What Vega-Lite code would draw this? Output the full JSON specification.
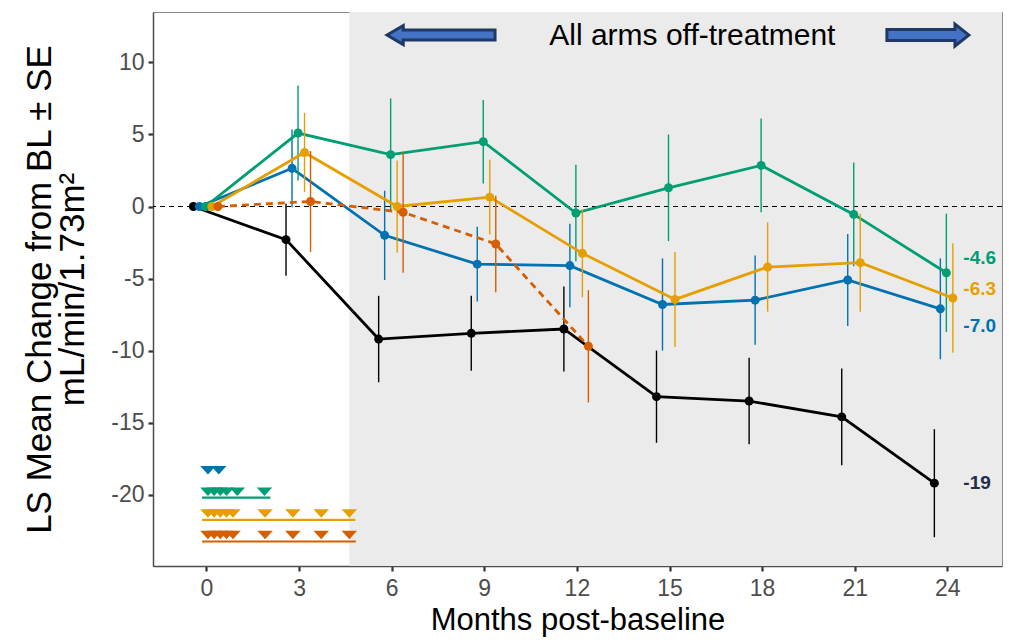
{
  "$schema": "https://vega.github.io/schema/vega-lite/v6.json",
  "width": 849,
  "height": 554,
  "autosize": "none",
  "padding": {"left": 153, "top": 12, "right": 7, "bottom": 78},
  "background": "white",
  "config": {
    "font": "Liberation Sans",
    "view": {"stroke": "#8a8a8a", "strokeWidth": 1},
    "axis": {
      "grid": false,
      "domainColor": "#4d4d4d",
      "domainWidth": 1.5,
      "tickColor": "#333333",
      "tickWidth": 2.2,
      "tickSize": 5,
      "labelFont": "Liberation Sans",
      "labelFontSize": 23,
      "labelColor": "#4d4d4d",
      "titleFont": "Liberation Sans",
      "titleFontWeight": "normal",
      "titleColor": "#000000"
    }
  },
  "datasets": {
    "means": [
      {"arm": "Control", "month": 0, "mean": 0, "lo": 0, "hi": 0},
      {"arm": "Control", "month": 3, "mean": -2.3, "lo": -4.8, "hi": 0.2},
      {"arm": "Control", "month": 6, "mean": -9.2, "lo": -12.2, "hi": -6.2},
      {"arm": "Control", "month": 9, "mean": -8.8, "lo": -11.4, "hi": -6.2},
      {"arm": "Control", "month": 12, "mean": -8.5, "lo": -11.45, "hi": -5.55},
      {"arm": "Control", "month": 15, "mean": -13.2, "lo": -16.4, "hi": -10.0},
      {"arm": "Control", "month": 18, "mean": -13.5, "lo": -16.5, "hi": -10.5},
      {"arm": "Control", "month": 21, "mean": -14.6, "lo": -17.95, "hi": -11.25},
      {"arm": "Control", "month": 24, "mean": -19.2, "lo": -22.95, "hi": -15.45},
      {"arm": "Arm 1", "month": 0, "mean": 0, "lo": 0, "hi": 0},
      {"arm": "Arm 1", "month": 3, "mean": 2.65, "lo": -0.05, "hi": 5.35},
      {"arm": "Arm 1", "month": 6, "mean": -2.0, "lo": -5.1, "hi": 1.1},
      {"arm": "Arm 1", "month": 9, "mean": -4.0, "lo": -6.6, "hi": -1.4},
      {"arm": "Arm 1", "month": 12, "mean": -4.1, "lo": -7.0, "hi": -1.2},
      {"arm": "Arm 1", "month": 15, "mean": -6.8, "lo": -10.0, "hi": -3.6},
      {"arm": "Arm 1", "month": 18, "mean": -6.5, "lo": -9.6, "hi": -3.4},
      {"arm": "Arm 1", "month": 21, "mean": -5.1, "lo": -8.3, "hi": -1.9},
      {"arm": "Arm 1", "month": 24, "mean": -7.1, "lo": -10.6, "hi": -3.6},
      {"arm": "Arm 2", "month": 0, "mean": 0, "lo": 0, "hi": 0},
      {"arm": "Arm 2", "month": 3, "mean": 5.1, "lo": 1.8, "hi": 8.4},
      {"arm": "Arm 2", "month": 6, "mean": 3.6, "lo": -0.3, "hi": 7.5},
      {"arm": "Arm 2", "month": 9, "mean": 4.5, "lo": 1.6, "hi": 7.4},
      {"arm": "Arm 2", "month": 12, "mean": -0.45, "lo": -3.8, "hi": 2.9},
      {"arm": "Arm 2", "month": 15, "mean": 1.3, "lo": -2.4, "hi": 5.0},
      {"arm": "Arm 2", "month": 18, "mean": 2.85, "lo": -0.4, "hi": 6.1},
      {"arm": "Arm 2", "month": 21, "mean": -0.55, "lo": -4.15, "hi": 3.05},
      {"arm": "Arm 2", "month": 24, "mean": -4.6, "lo": -8.7, "hi": -0.5},
      {"arm": "Arm 3", "month": 0, "mean": 0, "lo": 0, "hi": 0},
      {"arm": "Arm 3", "month": 3, "mean": 3.75, "lo": 1.0, "hi": 6.5},
      {"arm": "Arm 3", "month": 6, "mean": 0.0, "lo": -3.2, "hi": 3.2},
      {"arm": "Arm 3", "month": 9, "mean": 0.65, "lo": -1.95, "hi": 3.25},
      {"arm": "Arm 3", "month": 12, "mean": -3.25, "lo": -6.3, "hi": -0.2},
      {"arm": "Arm 3", "month": 15, "mean": -6.45, "lo": -9.75, "hi": -3.15},
      {"arm": "Arm 3", "month": 18, "mean": -4.2, "lo": -7.3, "hi": -1.1},
      {"arm": "Arm 3", "month": 21, "mean": -3.9, "lo": -7.3, "hi": -0.5},
      {"arm": "Arm 3", "month": 24, "mean": -6.35, "lo": -10.15, "hi": -2.55},
      {"arm": "Arm 4", "month": 0, "mean": 0, "lo": 0, "hi": 0},
      {"arm": "Arm 4", "month": 3, "mean": 0.35, "lo": -3.15, "hi": 3.85},
      {"arm": "Arm 4", "month": 6, "mean": -0.4, "lo": -4.6, "hi": 3.8},
      {"arm": "Arm 4", "month": 9, "mean": -2.6, "lo": -5.95, "hi": 0.75},
      {"arm": "Arm 4", "month": 12, "mean": -9.7, "lo": -13.6, "hi": -5.8}
    ],
    "labels": [
      {"arm": "Arm 2", "month": 24, "ly": -3.6, "label": "-4.6"},
      {"arm": "Arm 3", "month": 24, "ly": -5.75, "label": "-6.3"},
      {"arm": "Arm 1", "month": 24, "ly": -8.3, "label": "-7.0"},
      {"arm": "Control", "month": 24, "ly": -19.2, "label": "-19"}
    ],
    "doses": [
      {"arm": "Arm 1", "month": 0.05, "level": -18.3},
      {"arm": "Arm 1", "month": 0.4, "level": -18.3},
      {"arm": "Arm 2", "month": 0.05, "level": -19.8},
      {"arm": "Arm 2", "month": 0.25, "level": -19.8},
      {"arm": "Arm 2", "month": 0.45, "level": -19.8},
      {"arm": "Arm 2", "month": 0.65, "level": -19.8},
      {"arm": "Arm 2", "month": 1.0, "level": -19.8},
      {"arm": "Arm 2", "month": 1.88, "level": -19.8},
      {"arm": "Arm 3", "month": 0.05, "level": -21.3},
      {"arm": "Arm 3", "month": 0.25, "level": -21.3},
      {"arm": "Arm 3", "month": 0.45, "level": -21.3},
      {"arm": "Arm 3", "month": 0.65, "level": -21.3},
      {"arm": "Arm 3", "month": 0.86, "level": -21.3},
      {"arm": "Arm 3", "month": 1.9, "level": -21.3},
      {"arm": "Arm 3", "month": 2.8, "level": -21.3},
      {"arm": "Arm 3", "month": 3.72, "level": -21.3},
      {"arm": "Arm 3", "month": 4.63, "level": -21.3},
      {"arm": "Arm 4", "month": 0.05, "level": -22.8},
      {"arm": "Arm 4", "month": 0.25, "level": -22.8},
      {"arm": "Arm 4", "month": 0.45, "level": -22.8},
      {"arm": "Arm 4", "month": 0.65, "level": -22.8},
      {"arm": "Arm 4", "month": 0.86, "level": -22.8},
      {"arm": "Arm 4", "month": 1.9, "level": -22.8},
      {"arm": "Arm 4", "month": 2.8, "level": -22.8},
      {"arm": "Arm 4", "month": 3.72, "level": -22.8},
      {"arm": "Arm 4", "month": 4.63, "level": -22.8}
    ],
    "doselines": [
      {"arm": "Arm 2", "start": -0.14, "end": 2.07, "level": -20.2},
      {"arm": "Arm 3", "start": -0.14, "end": 4.82, "level": -21.75},
      {"arm": "Arm 4", "start": -0.14, "end": 4.84, "level": -23.25}
    ]
  },
  "layer": [
    {
      "data": {"values": [{"start": 4.63, "end": 25.77}]},
      "mark": {"type": "rect", "color": "#EBEBEB", "clip": true},
      "encoding": {
        "x": {"field": "start", "type": "quantitative", "scale": {"domain": [-1.73, 25.77], "nice": false, "zero": false},
          "axis": {"values": [0, 3, 6, 9, 12, 15, 18, 21, 24], "labelPadding": 6, "title": "Months post-baseline", "titleFontSize": 31, "titlePadding": 5}},
        "x2": {"field": "end"}
      }
    },
    {
      "data": {"values": [{"zero": 0}]},
      "mark": {"type": "rule", "color": "#000000", "strokeWidth": 1, "strokeDash": [5, 4]},
      "encoding": {
        "y": {"field": "zero", "type": "quantitative", "scale": {"domain": [-24.95, 13.5], "nice": false, "zero": false},
          "axis": {"values": [-20, -15, -10, -5, 0, 5, 10], "labelExpr": "toString(datum.value)", "labelPadding": 4, "title": ["LS Mean Change from BL ± SE", "mL/min/1.73m²"], "titleFontSize": 35, "titleLineHeight": 33, "titlePadding": 20}}
      }
    },
    {
      "data": {"name": "doselines"},
      "mark": {"type": "rule", "strokeWidth": 2.2},
      "encoding": {
        "x": {"field": "start", "type": "quantitative", "title": "Months post-baseline"},
        "x2": {"field": "end"},
        "y": {"field": "level", "type": "quantitative", "title": ["LS Mean Change from BL ± SE", "mL/min/1.73m²"]},
        "color": {"field": "arm", "type": "nominal", "legend": null,
          "scale": {"domain": ["Control", "Arm 1", "Arm 2", "Arm 3", "Arm 4"], "range": ["#000000", "#0072B2", "#009E73", "#E69F00", "#D55E00"]}}
      }
    },
    {
      "data": {"name": "doses"},
      "mark": {"type": "point", "filled": true, "opacity": 1, "size": 240, "shape": "M-1,-0.55 L1,-0.55 L0,0.55 Z"},
      "encoding": {
        "x": {"field": "month", "type": "quantitative", "title": "Months post-baseline"},
        "y": {"field": "level", "type": "quantitative", "title": ["LS Mean Change from BL ± SE", "mL/min/1.73m²"]},
        "color": {"field": "arm", "type": "nominal", "legend": null}
      }
    },
    {
      "data": {"name": "means"},
      "transform": [{"filter": "datum.arm === 'Control'"}],
      "layer": [
        {"mark": {"type": "rule", "strokeWidth": 1.4, "xOffset": -13},
         "encoding": {"x": {"field": "month", "type": "quantitative", "title": "Months post-baseline"}, "y": {"field": "lo", "type": "quantitative", "title": ["LS Mean Change from BL ± SE", "mL/min/1.73m²"]}, "y2": {"field": "hi"}, "color": {"field": "arm", "type": "nominal", "legend": null}}},
        {"mark": {"type": "line", "strokeWidth": 2.8, "xOffset": -13},
         "encoding": {"x": {"field": "month", "type": "quantitative", "title": "Months post-baseline"}, "y": {"field": "mean", "type": "quantitative", "title": ["LS Mean Change from BL ± SE", "mL/min/1.73m²"]}, "color": {"field": "arm", "type": "nominal", "legend": null}}},
        {"mark": {"type": "circle", "size": 80, "opacity": 1, "xOffset": -13},
         "encoding": {"x": {"field": "month", "type": "quantitative", "title": "Months post-baseline"}, "y": {"field": "mean", "type": "quantitative", "title": ["LS Mean Change from BL ± SE", "mL/min/1.73m²"]}, "color": {"field": "arm", "type": "nominal", "legend": null}}}
      ]
    },
    {
      "data": {"name": "means"},
      "transform": [{"filter": "datum.arm === 'Arm 1'"}],
      "layer": [
        {"mark": {"type": "rule", "strokeWidth": 1.4, "xOffset": -7},
         "encoding": {"x": {"field": "month", "type": "quantitative", "title": "Months post-baseline"}, "y": {"field": "lo", "type": "quantitative", "title": ["LS Mean Change from BL ± SE", "mL/min/1.73m²"]}, "y2": {"field": "hi"}, "color": {"field": "arm", "type": "nominal", "legend": null}}},
        {"mark": {"type": "line", "strokeWidth": 2.8, "xOffset": -7},
         "encoding": {"x": {"field": "month", "type": "quantitative", "title": "Months post-baseline"}, "y": {"field": "mean", "type": "quantitative", "title": ["LS Mean Change from BL ± SE", "mL/min/1.73m²"]}, "color": {"field": "arm", "type": "nominal", "legend": null}}},
        {"mark": {"type": "circle", "size": 80, "opacity": 1, "xOffset": -7},
         "encoding": {"x": {"field": "month", "type": "quantitative", "title": "Months post-baseline"}, "y": {"field": "mean", "type": "quantitative", "title": ["LS Mean Change from BL ± SE", "mL/min/1.73m²"]}, "color": {"field": "arm", "type": "nominal", "legend": null}}}
      ]
    },
    {
      "data": {"name": "means"},
      "transform": [{"filter": "datum.arm === 'Arm 2'"}],
      "layer": [
        {"mark": {"type": "rule", "strokeWidth": 1.4, "xOffset": -1},
         "encoding": {"x": {"field": "month", "type": "quantitative", "title": "Months post-baseline"}, "y": {"field": "lo", "type": "quantitative", "title": ["LS Mean Change from BL ± SE", "mL/min/1.73m²"]}, "y2": {"field": "hi"}, "color": {"field": "arm", "type": "nominal", "legend": null}}},
        {"mark": {"type": "line", "strokeWidth": 2.8, "xOffset": -1},
         "encoding": {"x": {"field": "month", "type": "quantitative", "title": "Months post-baseline"}, "y": {"field": "mean", "type": "quantitative", "title": ["LS Mean Change from BL ± SE", "mL/min/1.73m²"]}, "color": {"field": "arm", "type": "nominal", "legend": null}}},
        {"mark": {"type": "circle", "size": 80, "opacity": 1, "xOffset": -1},
         "encoding": {"x": {"field": "month", "type": "quantitative", "title": "Months post-baseline"}, "y": {"field": "mean", "type": "quantitative", "title": ["LS Mean Change from BL ± SE", "mL/min/1.73m²"]}, "color": {"field": "arm", "type": "nominal", "legend": null}}}
      ]
    },
    {
      "data": {"name": "means"},
      "transform": [{"filter": "datum.arm === 'Arm 3'"}],
      "layer": [
        {"mark": {"type": "rule", "strokeWidth": 1.4, "xOffset": 5.5},
         "encoding": {"x": {"field": "month", "type": "quantitative", "title": "Months post-baseline"}, "y": {"field": "lo", "type": "quantitative", "title": ["LS Mean Change from BL ± SE", "mL/min/1.73m²"]}, "y2": {"field": "hi"}, "color": {"field": "arm", "type": "nominal", "legend": null}}},
        {"mark": {"type": "line", "strokeWidth": 2.8, "xOffset": 5.5},
         "encoding": {"x": {"field": "month", "type": "quantitative", "title": "Months post-baseline"}, "y": {"field": "mean", "type": "quantitative", "title": ["LS Mean Change from BL ± SE", "mL/min/1.73m²"]}, "color": {"field": "arm", "type": "nominal", "legend": null}}},
        {"mark": {"type": "circle", "size": 80, "opacity": 1, "xOffset": 5.5},
         "encoding": {"x": {"field": "month", "type": "quantitative", "title": "Months post-baseline"}, "y": {"field": "mean", "type": "quantitative", "title": ["LS Mean Change from BL ± SE", "mL/min/1.73m²"]}, "color": {"field": "arm", "type": "nominal", "legend": null}}}
      ]
    },
    {
      "data": {"name": "means"},
      "transform": [{"filter": "datum.arm === 'Arm 4'"}],
      "layer": [
        {"mark": {"type": "rule", "strokeWidth": 1.4, "xOffset": 11.5},
         "encoding": {"x": {"field": "month", "type": "quantitative", "title": "Months post-baseline"}, "y": {"field": "lo", "type": "quantitative", "title": ["LS Mean Change from BL ± SE", "mL/min/1.73m²"]}, "y2": {"field": "hi"}, "color": {"field": "arm", "type": "nominal", "legend": null}}},
        {"mark": {"type": "line", "strokeWidth": 2.8, "xOffset": 11.5, "strokeDash": [7, 5]},
         "encoding": {"x": {"field": "month", "type": "quantitative", "title": "Months post-baseline"}, "y": {"field": "mean", "type": "quantitative", "title": ["LS Mean Change from BL ± SE", "mL/min/1.73m²"]}, "color": {"field": "arm", "type": "nominal", "legend": null}}},
        {"mark": {"type": "circle", "size": 80, "opacity": 1, "xOffset": 11.5},
         "encoding": {"x": {"field": "month", "type": "quantitative", "title": "Months post-baseline"}, "y": {"field": "mean", "type": "quantitative", "title": ["LS Mean Change from BL ± SE", "mL/min/1.73m²"]}, "color": {"field": "arm", "type": "nominal", "legend": null}}}
      ]
    },
    {
      "data": {"name": "labels"},
      "mark": {"type": "text", "align": "left", "baseline": "middle", "dx": 16, "fontSize": 19, "fontWeight": "bold", "font": "Liberation Sans"},
      "encoding": {
        "x": {"field": "month", "type": "quantitative", "title": "Months post-baseline"},
        "y": {"field": "ly", "type": "quantitative", "title": ["LS Mean Change from BL ± SE", "mL/min/1.73m²"]},
        "text": {"field": "label"},
        "color": {"condition": {"test": "datum.arm === 'Control'", "value": "#1f2d4d"}, "field": "arm", "type": "nominal", "legend": null}
      }
    },
    {
      "data": {"values": [{"month": 15.74, "level": 11.8, "label": "All arms off-treatment"}]},
      "mark": {"type": "text", "align": "center", "baseline": "middle", "fontSize": 30, "font": "Liberation Sans", "color": "#000000"},
      "encoding": {
        "x": {"field": "month", "type": "quantitative", "title": "Months post-baseline"},
        "y": {"field": "level", "type": "quantitative", "title": ["LS Mean Change from BL ± SE", "mL/min/1.73m²"]},
        "text": {"field": "label"}
      }
    },
    {
      "data": {"values": [{"month": 7.6, "level": 11.9}]},
      "mark": {"type": "point", "filled": true, "opacity": 1, "size": 11664, "fill": "#4472C4", "stroke": "#1F3864", "strokeWidth": 3, "strokeOpacity": 1,
        "shape": "M-1,0 L-0.7,-0.176 L-0.7,-0.093 L1,-0.093 L1,0.093 L-0.7,0.093 L-0.7,0.176 Z"},
      "encoding": {
        "x": {"field": "month", "type": "quantitative", "title": "Months post-baseline"},
        "y": {"field": "level", "type": "quantitative", "title": ["LS Mean Change from BL ± SE", "mL/min/1.73m²"]}
      }
    },
    {
      "data": {"values": [{"month": 23.37, "level": 11.9}]},
      "mark": {"type": "point", "filled": true, "opacity": 1, "size": 6724, "fill": "#4472C4", "stroke": "#1F3864", "strokeWidth": 3, "strokeOpacity": 1,
        "shape": "M1,0 L0.66,-0.268 L0.66,-0.134 L-1,-0.134 L-1,0.134 L0.66,0.134 L0.66,0.268 Z"},
      "encoding": {
        "x": {"field": "month", "type": "quantitative", "title": "Months post-baseline"},
        "y": {"field": "level", "type": "quantitative", "title": ["LS Mean Change from BL ± SE", "mL/min/1.73m²"]}
      }
    }
  ]
}
